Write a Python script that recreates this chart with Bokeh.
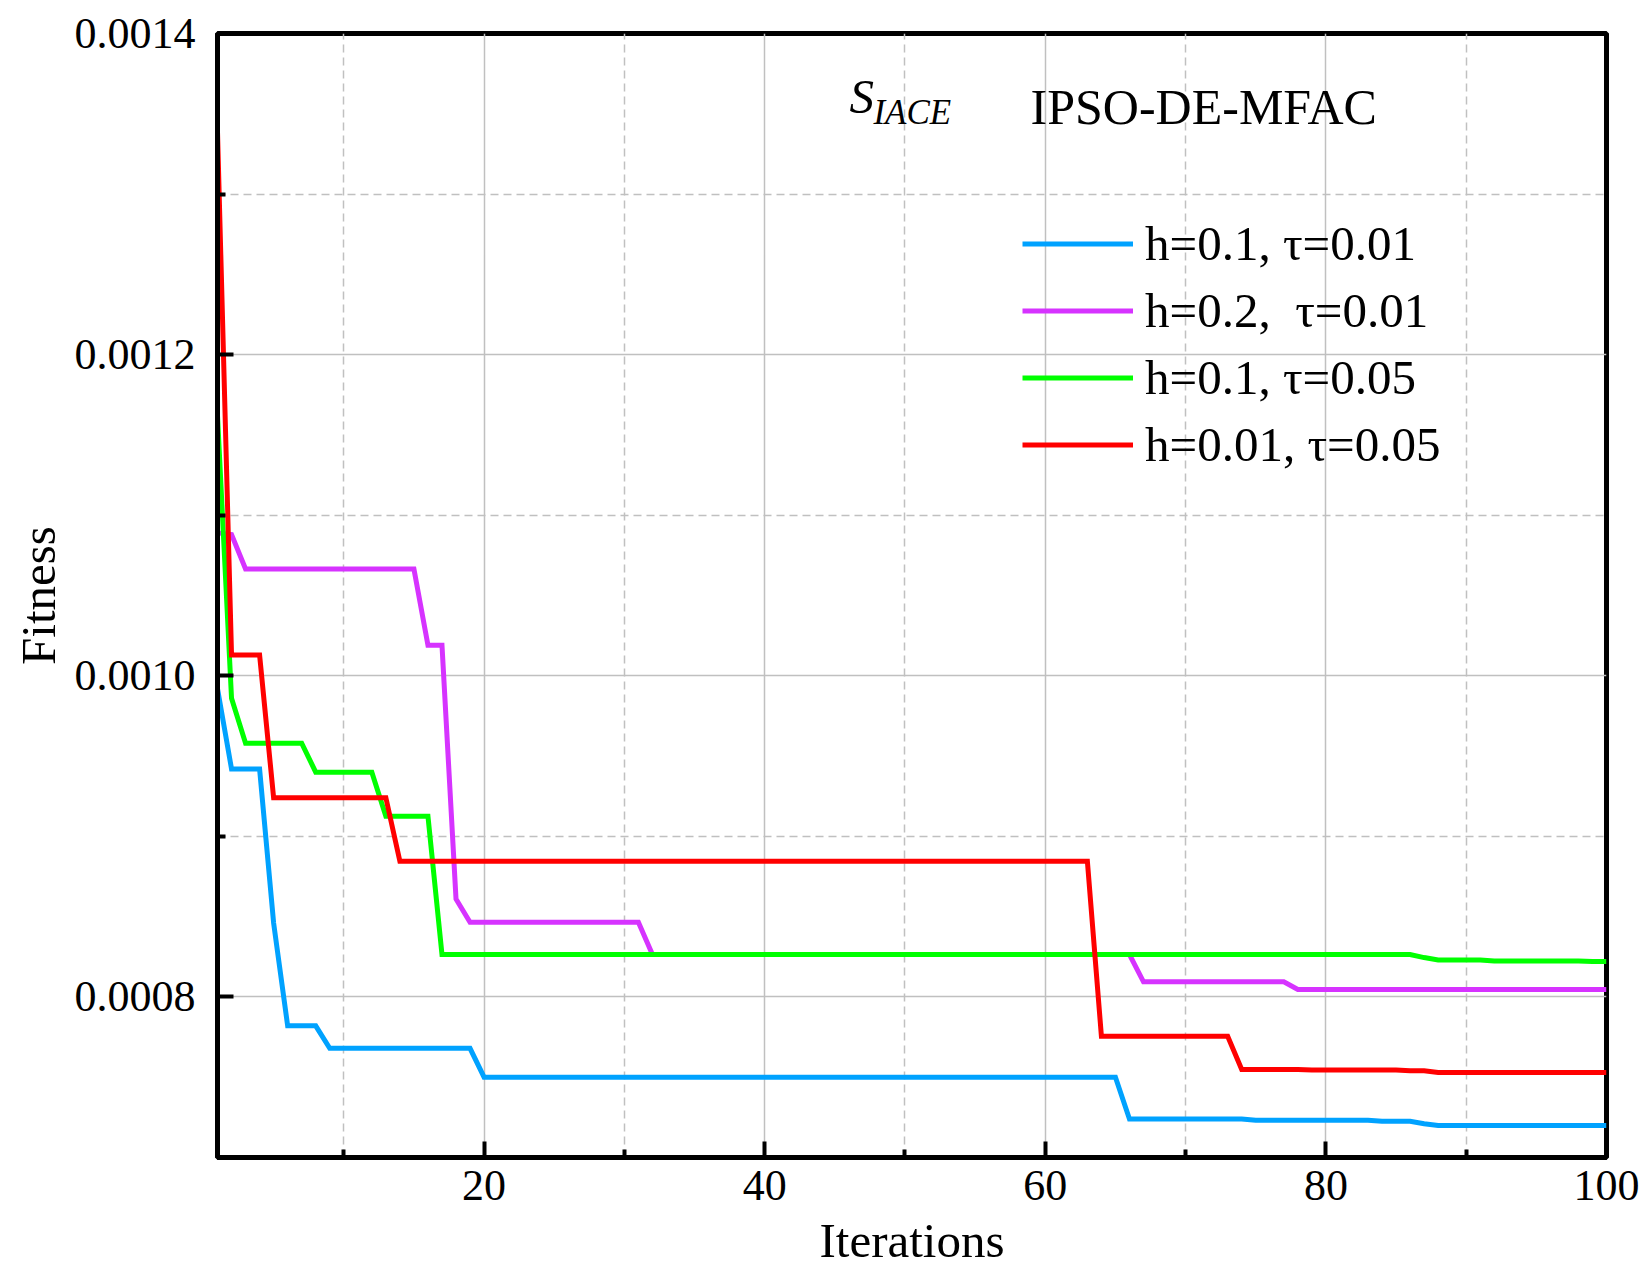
from bokeh.plotting import figure
from bokeh.models import Range1d, FixedTicker, PrintfTickFormatter, Legend, LegendItem, Label
from bokeh.embed import file_html
from bokeh.resources import INLINE

# ---------------- data ----------------
iterations = list(range(1, 101))

fit_h01_t001 = ([0.000992] + [0.000942] * 3 + [0.000846] + [0.000782] * 3 + [0.000768] * 11
                + [0.000750] * 46 + [0.000724] * 9 + [0.0007232] * 9 + [0.0007226] * 3
                + [0.000721] + [0.000720] * 13)

fit_h02_t001 = ([0.001089] + [0.001088] + [0.0010665] * 13 + [0.001019] * 2 + [0.000861]
                + [0.0008465] * 13 + [0.0008264] * 35 + [0.0008094] * 11 + [0.0008046] * 23)

fit_h01_t005 = ([0.001162] + [0.000986] + [0.000958] * 5 + [0.000940] * 5 + [0.0009125] * 4
                + [0.0008264] * 70 + [0.0008245] + [0.000823] * 4 + [0.0008224] * 7 + [0.000822] * 2)

fit_h001_t005 = ([0.001339] + [0.001013] * 3 + [0.000924] * 9 + [0.0008845] * 50
                 + [0.0007755] * 10 + [0.0007548] * 5 + [0.0007545] * 7 + [0.000754] * 2
                 + [0.000753] * 13)

series_labels = ["h=0.1, \u03c4=0.01", "h=0.2,  \u03c4=0.01", "h=0.1, \u03c4=0.05", "h=0.01, \u03c4=0.05"]
series_colors = ["#00A2FF", "#D633FF", "#00FF00", "#FF0000"]

x_major = [20, 40, 60, 80, 100]
x_minor = [10, 30, 50, 70, 90]
y_major = [0.0008, 0.0010, 0.0012, 0.0014]
y_minor = [0.0007, 0.0009, 0.0011, 0.0013]

# ---------------- figure ----------------
FONT = "Liberation Serif"

p = figure(width=1640, height=1272, output_backend="svg", toolbar_location=None,
           x_range=Range1d(1, 100), y_range=Range1d(0.0007, 0.0014),
           min_border_left=217, min_border_right=34, min_border_top=33, min_border_bottom=115)

p.background_fill_color = "white"
p.border_fill_color = "white"
p.outline_line_color = "black"
p.outline_line_width = 5

p.xaxis.ticker = FixedTicker(ticks=x_major, minor_ticks=x_minor)
p.yaxis.ticker = FixedTicker(ticks=y_major, minor_ticks=y_minor)
p.xaxis.formatter = PrintfTickFormatter(format="%d")
p.yaxis.formatter = PrintfTickFormatter(format="%.4f")

for ax in (p.xaxis[0], p.yaxis[0]):
    ax.axis_line_color = "black"
    ax.axis_line_width = 5
    ax.major_tick_line_color = "black"
    ax.major_tick_line_width = 4
    ax.minor_tick_line_color = "black"
    ax.minor_tick_line_width = 4
    ax.major_tick_in = 16
    ax.major_tick_out = 0
    ax.minor_tick_in = 8
    ax.minor_tick_out = 0
    ax.major_label_text_font = FONT
    ax.major_label_text_font_size = "44px"
    ax.major_label_text_color = "black"
    ax.axis_label_text_font = FONT
    ax.axis_label_text_font_size = "49px"
    ax.axis_label_text_font_style = "normal"
    ax.axis_label_text_color = "black"

p.xaxis.axis_label = "Iterations"
p.yaxis.axis_label = "Fitness"
p.xaxis.major_label_standoff = 13
p.xaxis.axis_label_standoff = 10
p.yaxis.major_label_standoff = 22
p.yaxis.axis_label_standoff = 6

for g in (p.xgrid[0], p.ygrid[0]):
    g.grid_line_color = "#C0C0C0"
    g.grid_line_width = 1.5
    g.minor_grid_line_color = "#C0C0C0"
    g.minor_grid_line_width = 1.5
    g.minor_grid_line_dash = "8 5"

series = [fit_h01_t001, fit_h02_t001, fit_h01_t005, fit_h001_t005]
renderers = []
for ys, col in zip(series, series_colors):
    r = p.line(iterations, ys, line_color=col, line_width=5, line_join="miter")
    renderers.append(r)

legend = Legend(items=[LegendItem(label=lab, renderers=[r]) for lab, r in zip(series_labels, renderers)],
                location=(805, 679))
legend.label_text_font = FONT
legend.label_text_font_size = "49px"
legend.label_text_color = "black"
legend.glyph_width = 111
legend.glyph_height = 67
legend.label_height = 67
legend.spacing = 0
legend.padding = 0
legend.margin = 0
legend.label_standoff = 12
legend.border_line_color = None
legend.background_fill_alpha = 0
p.add_layout(legend)

p.add_layout(Label(x=46.05, y=0.0013605, text="S", text_font=FONT, text_font_size="49px",
                   text_font_style="italic", text_color="black", text_baseline="alphabetic"))
p.add_layout(Label(x=47.75, y=0.0013505, text="IACE", text_font=FONT, text_font_size="35px",
                   text_font_style="italic", text_color="black", text_baseline="alphabetic"))
p.add_layout(Label(x=58.95, y=0.0013545, text="IPSO-DE-MFAC", text_font=FONT, text_font_size="50px",
                   text_color="black", text_baseline="alphabetic"))

open("out.html", "w").write(file_html(p, INLINE))
